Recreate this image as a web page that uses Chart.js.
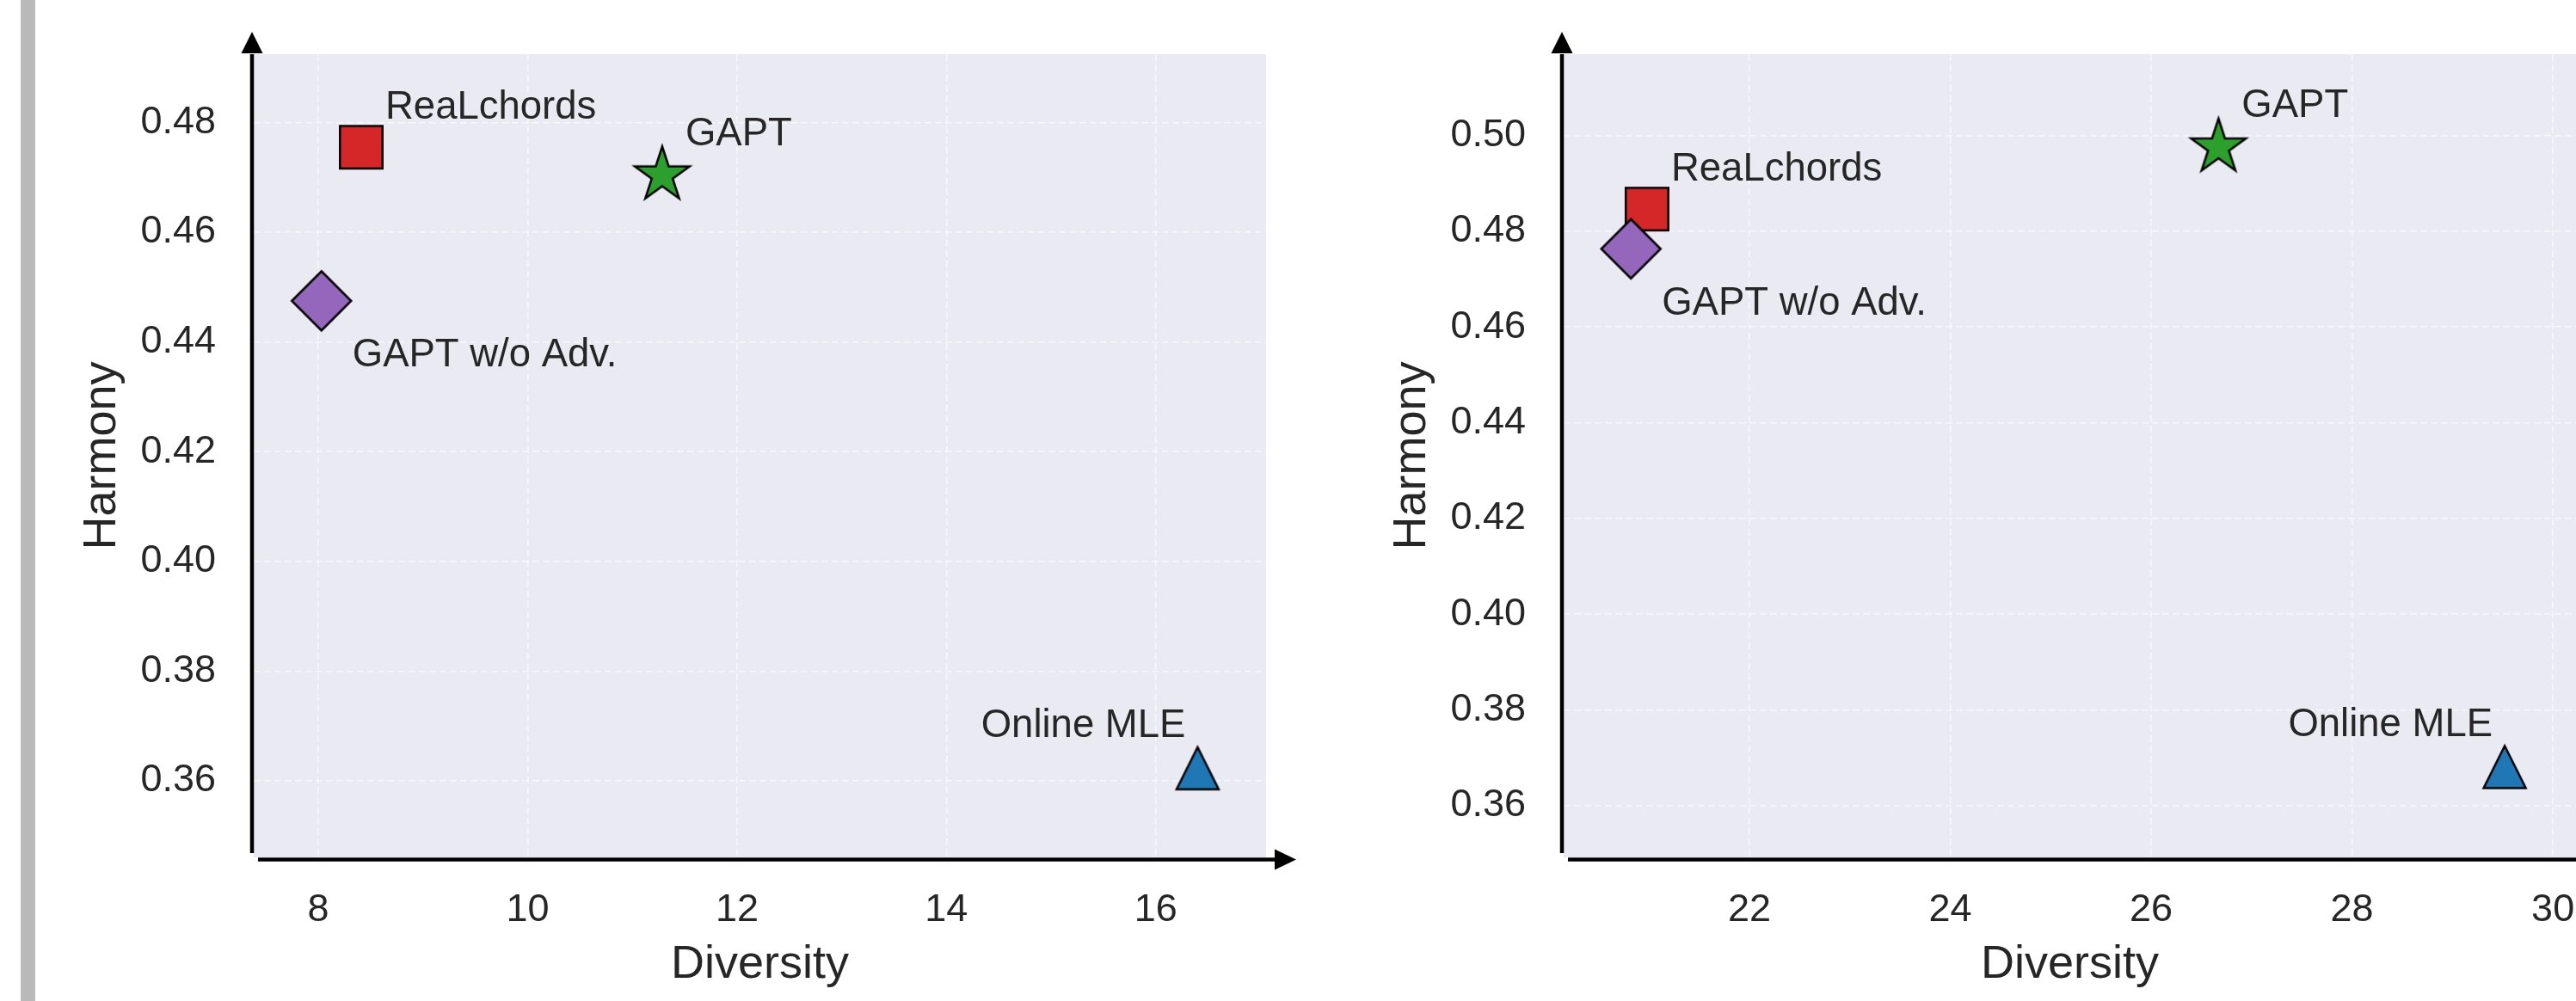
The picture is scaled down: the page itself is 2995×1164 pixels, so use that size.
<!DOCTYPE html>
<html>
<head>
<meta charset="utf-8">
<script src="https://cdn.jsdelivr.net/npm/chart.js@4.4.1/dist/chart.umd.min.js"></script>
<style>
  html, body { margin: 0; padding: 0; background: #ffffff; }
  #page { position: relative; width: 2995px; height: 1164px; overflow: hidden; background: #ffffff; }
  #bar { position: absolute; left: 24px; top: 0; width: 17px; height: 1164px; background: #b9b9b9; }
  canvas { position: absolute; top: 0; }
  #chartLeft { left: 0; }
  #chartRight { left: 1523px; }
</style>
</head>
<body>
<div id="page">
  <div id="bar"></div>
  <canvas id="chartLeft" width="1560" height="1164"></canvas>
  <canvas id="chartRight" width="1560" height="1164"></canvas>
</div>
<script>
// Métodos comparados (mismo orden en todos los arreglos)
const methods = ['Online MLE', 'ReaLchords', 'GAPT w/o Adv.', 'GAPT'];

// Panel izquierdo
const diversityLeft = [16.40, 8.41, 8.03, 11.285];
const harmonyLeft = [0.3623, 0.4755, 0.4475, 0.4704];
const xTicksLeft = [8, 10, 12, 14, 16];
const yTicksLeft = [0.36, 0.38, 0.40, 0.42, 0.44, 0.46, 0.48];

// Panel derecho
const diversityRight = [29.52, 20.98, 20.82, 26.67];
const harmonyRight = [0.3681, 0.4846, 0.4763, 0.4975];
const xTicksRight = [22, 24, 26, 28, 30];
const yTicksRight = [0.36, 0.38, 0.40, 0.42, 0.44, 0.46, 0.48, 0.50];

// Estilo de los marcadores y de las etiquetas
const markerShapes = ['triangle', 'square', 'diamond', 'star'];
const markerColors = ['#1f77b4', '#d62728', '#9467bd', '#2ca02c'];
const labelOffsets = [
    { dx: -14, dy: -52.5, align: 'right' },
    { dx: 28, dy: -49, align: 'left' },
    { dx: 36, dy: 60, align: 'left' },
    { dx: 27, dy: -51.5, align: 'left' }
];

const FONT = "'Liberation Sans', Arial, sans-serif";
const TEXT_COLOR = '#262626';
const LABEL_SIZE = 45.5;

// Dibuja un marcador en un canvas pequeño para usarlo como pointStyle
function makeMarker(shape, fill) {
    const c = document.createElement('canvas');
    c.width = 90;
    c.height = 90;
    const ctx = c.getContext('2d');
    ctx.translate(45, 45);
    ctx.beginPath();
    if (shape === 'square') {
        ctx.rect(-24.75, -24.75, 49.5, 49.5);
    } else if (shape === 'diamond') {
        const h = 34.5;
        ctx.moveTo(0, -h);
        ctx.lineTo(h, 0);
        ctx.lineTo(0, h);
        ctx.lineTo(-h, 0);
        ctx.closePath();
    } else if (shape === 'triangle') {
        const h = 24.5;
        ctx.moveTo(0, -h);
        ctx.lineTo(h, h);
        ctx.lineTo(-h, h);
        ctx.closePath();
    } else {
        const R = 33.5;
        for (let i = 0; i < 10; i++) {
            const a = -Math.PI / 2 + i * Math.PI / 5;
            const r = i % 2 === 0 ? R : R * 0.381966;
            if (i === 0) ctx.moveTo(r * Math.cos(a), r * Math.sin(a));
            else ctx.lineTo(r * Math.cos(a), r * Math.sin(a));
        }
        ctx.closePath();
    }
    ctx.fillStyle = fill;
    ctx.fill();
    ctx.lineWidth = 2.5;
    ctx.lineJoin = 'miter';
    ctx.strokeStyle = '#000000';
    ctx.stroke();
    return c;
}

const markers = markerShapes.map((s, i) => makeMarker(s, markerColors[i]));

// Fondo, etiquetas de los puntos y ejes con flecha
const plotDecor = {
    id: 'plotDecor',
    beforeDraw(chart) {
        const { left, top, width, height } = chart.chartArea;
        const ctx = chart.ctx;
        ctx.save();
        ctx.fillStyle = '#eaeaf2';
        ctx.fillRect(left, top, width, height);
        ctx.restore();
    },
    afterDatasetsDraw(chart) {
        const ctx = chart.ctx;
        const meta = chart.getDatasetMeta(0);
        ctx.save();
        ctx.font = LABEL_SIZE + 'px ' + FONT;
        ctx.fillStyle = TEXT_COLOR;
        ctx.textBaseline = 'alphabetic';
        meta.data.forEach((pt, i) => {
            const off = labelOffsets[i];
            ctx.textAlign = off.align;
            ctx.fillText(methods[i], pt.x + off.dx, pt.y + off.dy + 0.358 * LABEL_SIZE);
        });
        ctx.restore();
    },
    afterDraw(chart) {
        const { left, right, top, bottom } = chart.chartArea;
        const ctx = chart.ctx;
        ctx.save();
        ctx.strokeStyle = '#000000';
        ctx.fillStyle = '#000000';
        ctx.lineWidth = 4.5;
        // eje vertical
        const ax = left - 2;
        ctx.beginPath();
        ctx.moveTo(ax, bottom - 5);
        ctx.lineTo(ax, top);
        ctx.stroke();
        ctx.beginPath();
        ctx.moveTo(ax, top - 26);
        ctx.lineTo(ax - 12.5, top - 1);
        ctx.lineTo(ax + 12.5, top - 1);
        ctx.closePath();
        ctx.fill();
        // eje horizontal
        const ay = bottom + 2.5;
        ctx.beginPath();
        ctx.moveTo(left + 5, ay);
        ctx.lineTo(right + 12, ay);
        ctx.stroke();
        ctx.beginPath();
        ctx.moveTo(right + 35, ay);
        ctx.lineTo(right + 10, ay - 12);
        ctx.lineTo(right + 10, ay + 12);
        ctx.closePath();
        ctx.fill();
        ctx.restore();
    }
};

function buildScales(xMin, xMax, yMin, yMax, xTicks, yTicks) {
    const gridStyle = { color: 'rgba(255,255,255,0.6)', lineWidth: 1.5, drawTicks: false };
    return {
        x: {
            type: 'linear',
            min: xMin,
            max: xMax,
            afterBuildTicks: s => { s.ticks = xTicks.map(v => ({ value: v })); },
            afterFit: s => {
                s.height = 167;
                s.paddingLeft = 0;
                s.paddingRight = 0;
            },
            grid: gridStyle,
            border: { display: false, dash: [8, 4] },
            ticks: {
                padding: 35,
                color: TEXT_COLOR,
                font: { family: FONT, size: 45 },
                maxRotation: 0,
                callback: v => String(v)
            },
            title: {
                display: true,
                text: 'Diversity',
                color: TEXT_COLOR,
                font: { family: FONT, size: 54 },
                padding: { top: 0, bottom: 9 }
            }
        },
        y: {
            type: 'linear',
            min: yMin,
            max: yMax,
            afterBuildTicks: s => { s.ticks = yTicks.map(v => ({ value: v })); },
            afterFit: s => {
                s.width = 295;
                s.paddingTop = 0;
                s.paddingBottom = 0;
            },
            grid: gridStyle,
            border: { display: false, dash: [8, 4] },
            ticks: {
                padding: 44,
                color: TEXT_COLOR,
                font: { family: FONT, size: 45 },
                callback: v => v.toFixed(2)
            },
            title: {
                display: true,
                text: 'Harmony',
                color: TEXT_COLOR,
                font: { family: FONT, size: 54 },
                padding: { top: 87, bottom: 0 }
            }
        }
    };
}

function generateScatter(canvasId, xs, ys, limits, xTicks, yTicks) {
    const ctx = document.getElementById(canvasId).getContext('2d');
    new Chart(ctx, {
        type: 'scatter',
        data: {
            datasets: [{
                data: xs.map((x, i) => ({ x: x, y: ys[i] })),
                pointStyle: markers,
                pointRadius: 30,
                pointHoverRadius: 30,
                clip: false
            }]
        },
        options: {
            responsive: false,
            animation: false,
            layout: { padding: { top: 63, right: 88, left: 0, bottom: 0 } },
            plugins: { legend: { display: false }, tooltip: { enabled: false } },
            scales: buildScales(limits[0], limits[1], limits[2], limits[3], xTicks, yTicks)
        },
        plugins: [plotDecor]
    });
}

document.addEventListener('DOMContentLoaded', function() {
    generateScatter('chartLeft', diversityLeft, harmonyLeft,
        [7.383, 17.054, 0.34605, 0.49246], xTicksLeft, yTicksLeft);
    generateScatter('chartRight', diversityRight, harmonyRight,
        [20.15, 30.23, 0.34922, 0.51695], xTicksRight, yTicksRight);
});
</script>
</body>
</html>
